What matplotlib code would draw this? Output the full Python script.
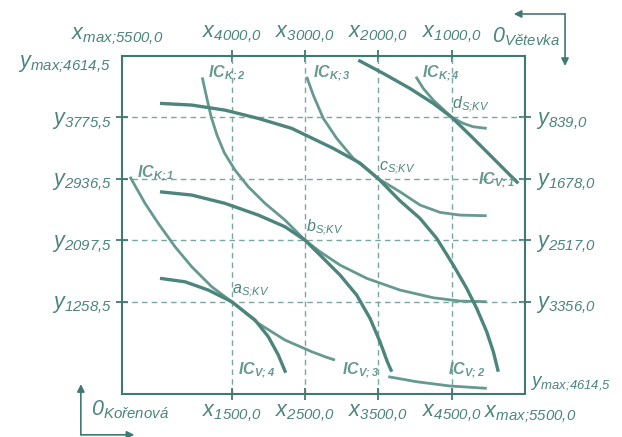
#!/usr/bin/env python3
"""
Edgeworth box: indifference curves of Kořenová and Větevka
"""

import matplotlib.pyplot as plt
from matplotlib.patches import FancyArrowPatch

plt.rcParams['font.family'] = ['Liberation Sans', 'DejaVu Sans']
plt.rcParams['mathtext.fontset'] = 'custom'
plt.rcParams['mathtext.rm'] = 'Liberation Sans:italic'
plt.rcParams['mathtext.it'] = 'Liberation Sans:italic'
plt.rcParams['mathtext.bf'] = 'Liberation Sans:italic:bold'

X_MAX = 5500.0
Y_MAX = 4614.5

# ticks seen from Kořenová (bottom left) and Větevka (top right)
x_ticks_k = [1500.0, 2500.0, 3500.0, 4500.0]
y_ticks_k = [1258.5, 2097.5, 2936.5, 3775.5]
x_ticks_v = [4000.0, 3000.0, 2000.0, 1000.0]
y_ticks_v = [839.0, 1678.0, 2517.0, 3356.0]

# optimum points on the contract curve
opt_names = ['a', 'b', 'c', 'd']
opt_x = [1500.0, 2500.0, 3500.0, 4500.0]
opt_y = [1258.5, 2097.5, 2936.5, 3775.5]

# indifference curves (Kořenová coordinates)
ic_k1_x = [113, 318, 499, 727, 955, 1228, 1500, 1863, 2227, 2592, 2773, 2909]
ic_k1_y = [2963, 2600, 2327, 2008, 1735, 1462, 1258.5, 963, 735, 576, 507, 462]
ic_k2_x = [1099, 1160, 1220, 1300, 1400, 1545, 1727, 1955, 2227, 2500, 2705, 2978,
           3342, 3796, 4250, 4614, 4979]
ic_k2_y = [4318, 4040, 3780, 3530, 3290, 3054, 2826, 2600, 2372, 2097.5, 1940, 1758,
           1577, 1417, 1312, 1267, 1258]
ic_k3_x = [2523, 2613, 2750, 2933, 3159, 3500, 3796, 4069, 4342, 4614, 4979]
ic_k3_y = [4327, 4077, 3759, 3486, 3214, 2936.5, 2758, 2577, 2477, 2440, 2431]
ic_k4_x = [4014, 4114, 4250, 4500, 4659, 4796, 4979]
ic_k4_y = [4327, 4168, 4009, 3775.5, 3691, 3645, 3623]
ic_k5_x = [3636, 4024, 4478, 4979]
ic_k5_y = [235, 166, 108, 76]

ic_v1_x = [3227, 3568, 3932, 4250, 4500, 4751, 4979, 5205, 5410]
ic_v1_y = [4554, 4373, 4168, 3964, 3775.5, 3531, 3304, 3077, 2873]
ic_v2_x = [522, 955, 1409, 1863, 2319, 2886, 3250, 3500, 3796, 4069, 4297, 4523,
           4706, 4842, 4979, 5069, 5137]
ic_v2_y = [3964, 3941, 3872, 3759, 3623, 3350, 3150, 2936.5, 2635, 2395, 2122, 1758,
           1440, 1168, 848, 576, 303]
ic_v3_x = [522, 955, 1409, 1863, 2227, 2500, 2705, 2978, 3205, 3387, 3523, 3623, 3683]
ic_v3_y = [2758, 2713, 2600, 2440, 2281, 2097.5, 1895, 1622, 1349, 1031, 712, 439, 303]
ic_v4_x = [522, 863, 1181, 1500, 1818, 2000, 2136, 2237]
ic_v4_y = [1577, 1530, 1417, 1258.5, 1008, 780, 531, 289]

ic_labels = ['K;1', 'K;2', 'K;3', 'K;4', 'V;1', 'V;2', 'V;3', 'V;4']
ic_label_x = [209, 1177, 2609, 4096, 4860, 4451, 3005, 1586]
ic_label_y = [3013, 4377, 4377, 4377, 2918, 326, 326, 326]

FRAME = '#3f7a72'
DARK = '#4d857d'
LIGHT = '#66998f'
GRID = '#7aa7a1'
TEXT = '#4b847c'


def fmt(v):
    return f'{v:.1f}'.replace('.', ',')


def lab(letter, sub):
    return r'$\text{%s}_{\text{%s}}$' % (letter, sub)


def main():
    fig = plt.figure(figsize=(6.22, 4.37), dpi=100)
    ax = fig.add_axes([0.1957, 0.0986, 0.6482, 0.7739])
    ax.set_xlim(0, X_MAX)
    ax.set_ylim(0, Y_MAX)

    for s in ax.spines.values():
        s.set_color(FRAME)
        s.set_linewidth(1.5)

    for x in x_ticks_k:
        ax.axvline(x, color=GRID, lw=1.0, ls=(0, (4, 3)), zorder=1)
    for y in y_ticks_k:
        ax.axhline(y, color=GRID, lw=1.0, ls=(0, (4, 3)), zorder=1)

    thin = dict(color=LIGHT, lw=2.0, solid_capstyle='butt', solid_joinstyle='round', zorder=3)
    thick = dict(color=DARK, lw=2.4, solid_capstyle='butt', solid_joinstyle='round', zorder=4)
    ax.plot(ic_k1_x, ic_k1_y, **thin)
    ax.plot(ic_k2_x, ic_k2_y, **thin)
    ax.plot(ic_k3_x, ic_k3_y, **thin)
    ax.plot(ic_k4_x, ic_k4_y, **thin)
    ax.plot(ic_k5_x, ic_k5_y, **thin)
    ax.plot(ic_v1_x, ic_v1_y, **thick)
    ax.plot(ic_v2_x, ic_v2_y, **thick)
    ax.plot(ic_v3_x, ic_v3_y, **thick)
    ax.plot(ic_v4_x, ic_v4_y, **thick)

    for name, x, y in zip(ic_labels, ic_label_x, ic_label_y):
        ax.text(x, y, r'$\mathbf{IC}_{\mathbf{%s}}$' % name, color=LIGHT,
                fontsize=11.5, ha='left', va='center', zorder=5)

    for name, x, y in zip(opt_names, opt_x, opt_y):
        ax.annotate(lab(name, 'S;KV'), (x, y), xytext=(0.5, 1.5),
                    textcoords='offset points', color=TEXT, fontsize=11.5,
                    ha='left', va='bottom', zorder=5)

    # Kořenová axes (bottom, left)
    ax.set_xticks(x_ticks_k)
    ax.set_xticklabels([lab('x', fmt(v)) for v in x_ticks_k])
    ax.set_yticks(y_ticks_k)
    ax.set_yticklabels([lab('y', fmt(v)) for v in y_ticks_k])
    ax.tick_params(direction='inout', length=8, width=1.3, color=FRAME,
                   labelcolor=TEXT, labelsize=15.5)
    ax.tick_params(axis='x', pad=2)
    ax.tick_params(axis='y', pad=3)

    # Větevka axes (top, right)
    flip_x = (lambda v: X_MAX - v, lambda v: X_MAX - v)
    flip_y = (lambda v: Y_MAX - v, lambda v: Y_MAX - v)
    top = ax.secondary_xaxis('top', functions=flip_x)
    top.set_xticks(x_ticks_v)
    top.set_xticklabels([lab('x', fmt(v)) for v in x_ticks_v])
    right = ax.secondary_yaxis('right', functions=flip_y)
    right.set_yticks(y_ticks_v)
    right.set_yticklabels([lab('y', fmt(v)) for v in y_ticks_v])
    for sec in (top, right):
        sec.spines[:].set_visible(False)
        sec.tick_params(direction='inout', length=8, width=1.3, color=FRAME,
                        labelcolor=TEXT, labelsize=15.5)
    top.tick_params(pad=4)
    right.tick_params(pad=4)

    xmax_lab = lab('x', 'max;' + fmt(X_MAX))
    ymax_lab = lab('y', 'max;' + fmt(Y_MAX))
    ax.annotate(xmax_lab, (0, Y_MAX), xytext=(-3, 6), textcoords='offset points',
                ha='center', va='bottom', color=TEXT, fontsize=15.5)
    ax.annotate(xmax_lab, (X_MAX, 0), xytext=(4, -7), textcoords='offset points',
                ha='center', va='top', color=TEXT, fontsize=15.5)
    ax.annotate(ymax_lab, (0, Y_MAX), xytext=(-8, -6), textcoords='offset points',
                ha='right', va='center', color=TEXT, fontsize=15.5)
    ax.annotate(ymax_lab, (X_MAX, 0), xytext=(4, 8), textcoords='offset points',
                ha='left', va='center', color=TEXT, fontsize=13.5)

    # origin arrows
    arrow = dict(arrowstyle='-|>', color=FRAME, lw=1.2, mutation_scale=11,
                 shrinkA=0, shrinkB=0, transform=fig.transFigure)
    fig.add_artist(FancyArrowPatch((0.130, 0.005), (0.130, 0.121), **arrow))
    fig.add_artist(FancyArrowPatch((0.130, 0.005), (0.216, 0.005), **arrow))
    fig.add_artist(FancyArrowPatch((0.9084, 0.968), (0.826, 0.968), **arrow))
    fig.add_artist(FancyArrowPatch((0.9084, 0.968), (0.9084, 0.849), **arrow))
    fig.text(0.147, 0.062, lab('0', 'Kořenová'), color=TEXT, fontsize=15.5,
             ha='left', va='center')
    fig.text(0.791, 0.917, lab('0', 'Větevka'), color=TEXT, fontsize=15.5,
             ha='left', va='center')

    fig.savefig('out.png', dpi=100)


if __name__ == "__main__":
    main()
